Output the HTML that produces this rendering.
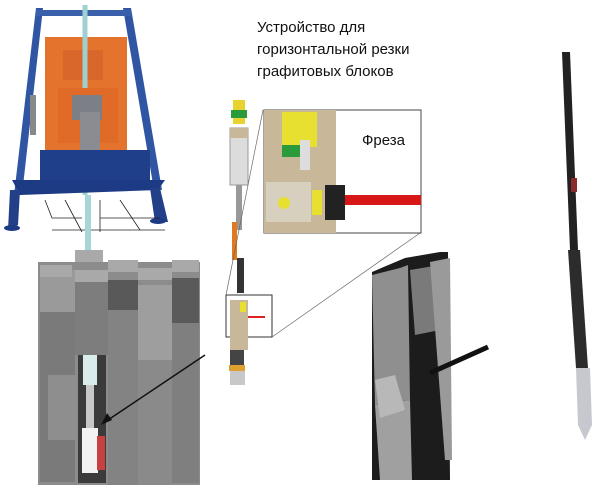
<!DOCTYPE html>
<html><head><meta charset="utf-8"><style>
body{margin:0;background:#fff;width:600px;height:490px;overflow:hidden;font-family:"Liberation Sans",sans-serif}
</style></head><body>
<svg width="600" height="490" viewBox="0 0 600 490" xmlns="http://www.w3.org/2000/svg">
<!-- rig -->
<g>
<polygon points="36,8 43,8 22,195 14,195" fill="#2f55a3"/>
<polygon points="123,8 131,8 162,190 154,190" fill="#2f55a3"/>
<rect x="36" y="10" width="95" height="6" fill="#3a60ac"/>
<rect x="30" y="95" width="6" height="40" fill="#888"/>
<rect x="120" y="78" width="6" height="16" fill="#999"/>
<rect x="45" y="37" width="82" height="113" fill="#e4732e"/>
<rect x="63" y="50" width="40" height="30" fill="#d9662a"/>
<line x1="85" y1="5" x2="85" y2="195" stroke="#9fd0d0" stroke-width="5"/>
<rect x="58" y="88" width="60" height="55" fill="#e06a28"/>
<rect x="72" y="95" width="30" height="25" fill="#7d7f86"/>
<rect x="80" y="112" width="20" height="40" fill="#8a8c92"/>
<rect x="40" y="150" width="110" height="30" fill="#1f3f8a"/>
<polygon points="12,180 165,180 158,190 20,195" fill="#1d3a85"/>
<polygon points="10,190 20,190 18,225 8,230" fill="#233f88"/>
<polygon points="150,188 160,188 168,222 155,222" fill="#233f88"/>
<ellipse cx="12" cy="228" rx="8" ry="3" fill="#1d3a85"/>
<ellipse cx="158" cy="221" rx="8" ry="3" fill="#1d3a85"/>
<g stroke="#222" stroke-width="0.8" fill="none">
<polyline points="45,200 52,218 82,218"/><line x1="65" y1="200" x2="82" y2="232"/>
<line x1="100" y1="200" x2="100" y2="232"/><line x1="120" y1="200" x2="140" y2="230"/>
<line x1="100" y1="218" x2="160" y2="218"/><line x1="52" y1="230" x2="165" y2="230"/>
</g>
<line x1="88" y1="195" x2="88" y2="282" stroke="#a7d6d6" stroke-width="6"/>
</g>
<!-- graphite blocks -->
<g>
<rect x="38" y="262" width="162" height="223" fill="#8c8c8c"/>
<rect x="40" y="270" width="35" height="42" fill="#9a9a9a"/>
<rect x="75" y="275" width="33" height="80" fill="#7d7d7d"/>
<rect x="108" y="280" width="30" height="30" fill="#595959"/>
<rect x="138" y="285" width="34" height="75" fill="#9e9e9e"/>
<rect x="172" y="278" width="27" height="45" fill="#5a5a5a"/>
<rect x="40" y="312" width="35" height="170" fill="#7a7a7a"/>
<rect x="48" y="375" width="28" height="65" fill="#8e8e8e"/>
<rect x="108" y="310" width="30" height="175" fill="#838383"/>
<rect x="138" y="360" width="34" height="125" fill="#8a8a8a"/>
<rect x="172" y="323" width="27" height="160" fill="#7f7f7f"/>
<g fill="#a9a9a9"><rect x="40" y="265" width="32" height="12"/><rect x="75" y="270" width="33" height="12"/><rect x="108" y="260" width="30" height="12"/><rect x="138" y="268" width="34" height="12"/><rect x="172" y="260" width="27" height="12"/><rect x="75" y="250" width="28" height="12"/></g>
<rect x="78" y="355" width="28" height="128" fill="#3b3b3b"/>
<rect x="83" y="355" width="14" height="30" fill="#d8ecec"/>
<rect x="86" y="385" width="8" height="45" fill="#c8c8c8"/>
<rect x="82" y="428" width="16" height="45" fill="#f2f2f2"/>
<rect x="97" y="436" width="8" height="34" fill="#c94040"/>
<line x1="205" y1="355" x2="105" y2="422" stroke="#111" stroke-width="1.5"/>
<polygon points="101,425 107,413 112,420" fill="#111"/>
</g>
<!-- text -->
<text font-size="15" fill="#111"><tspan x="257" y="32">Устройство для</tspan><tspan x="257" y="54">горизонтальной резки</tspan><tspan x="257" y="76">графитовых блоков</tspan></text>
<!-- center tool -->
<g>
<rect x="233" y="100" width="12" height="12" fill="#e8d230"/>
<rect x="231" y="110" width="16" height="8" fill="#2a9a3a"/>
<rect x="233" y="118" width="12" height="6" fill="#e8d230"/>
<rect x="230" y="128" width="18" height="57" fill="#dcdcdc" stroke="#999"/>
<rect x="230" y="128" width="18" height="10" fill="#c9b79a"/>
<rect x="236" y="185" width="6" height="45" fill="#999"/>
<rect x="232" y="222" width="5" height="38" fill="#e07a20"/>
<rect x="237" y="258" width="7" height="35" fill="#333"/>
<rect x="226" y="295" width="46" height="42" fill="none" stroke="#333"/>
<rect x="230" y="300" width="18" height="50" fill="#c9b79a"/>
<rect x="240" y="302" width="6" height="10" fill="#e8e030"/>
<line x1="248" y1="317" x2="265" y2="317" stroke="#d22" stroke-width="2"/>
<rect x="230" y="350" width="14" height="15" fill="#444"/>
<rect x="229" y="365" width="16" height="6" fill="#e0a030"/>
<rect x="230" y="371" width="15" height="14" fill="#c8c8c8"/>
<line x1="226" y1="295" x2="263" y2="110" stroke="#666" stroke-width="0.7"/>
<line x1="272" y1="337" x2="420" y2="233" stroke="#666" stroke-width="0.7"/>
</g>
<!-- inset -->
<g>
<rect x="264" y="110" width="157" height="123" fill="#fff" stroke="#444"/>
<rect x="264" y="110" width="72" height="123" fill="#c9b79a"/>
<rect x="282" y="112" width="35" height="35" fill="#e8e030"/>
<rect x="282" y="145" width="20" height="12" fill="#2a9a3a"/>
<rect x="300" y="140" width="10" height="30" fill="#ddd"/>
<rect x="266" y="182" width="45" height="40" fill="#d8d0bf"/>
<circle cx="284" cy="203" r="6" fill="#e8e030"/>
<rect x="312" y="190" width="10" height="25" fill="#e8e030"/>
<rect x="325" y="185" width="20" height="35" fill="#222"/>
<rect x="345" y="195" width="76" height="10" fill="#d81818"/>
<text x="362" y="145" font-size="15" fill="#111">Фреза</text>
</g>
<!-- right-middle photo -->
<g>
<polygon points="372,272 405,258 440,252 448,252 450,480 372,480" fill="#1c1c1c"/>
<polygon points="372,275 400,268 408,265 410,400 375,405" fill="#8f8f8f"/>
<polygon points="375,405 410,400 412,480 380,480" fill="#a0a0a0"/>
<polygon points="410,270 440,265 440,330 415,335" fill="#7a7a7a"/>
<polygon points="430,262 450,258 452,460 445,460" fill="#9a9a9a"/>
<polygon points="375,380 395,375 405,410 380,418" fill="#b8b8b8"/>
<line x1="430" y1="373" x2="488" y2="347" stroke="#111" stroke-width="5"/>
</g>
<!-- far right tool -->
<g>
<polygon points="562,52 570,52 578,250 570,250" fill="#222"/>
<polygon points="568,250 580,250 588,368 576,368" fill="#2c2c2c"/>
<rect x="571" y="178" width="6" height="14" fill="#8a2a2a"/>
<polygon points="576,368 590,368 592,425 585,440 578,425" fill="#c7c7cf"/>
</g>
</svg>
</body></html>
